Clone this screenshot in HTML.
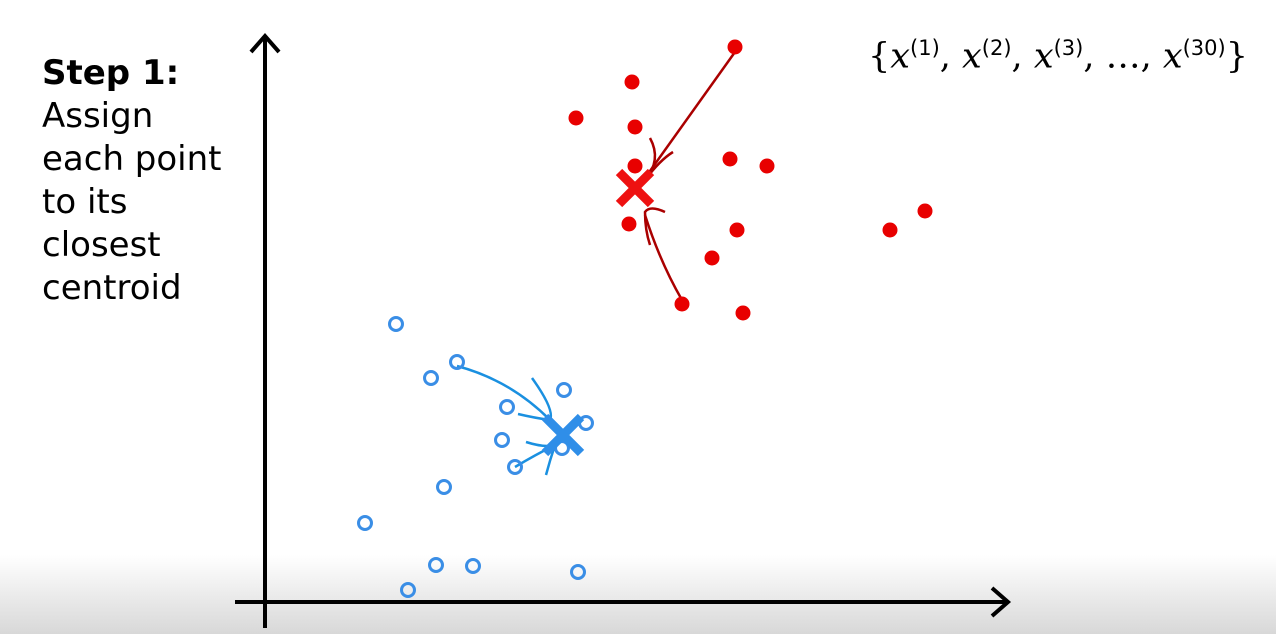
<!DOCTYPE html>
<html><head><meta charset="utf-8">
<style>
html,body{margin:0;padding:0;width:1276px;height:634px;overflow:hidden;background:#fff}
#wrap{position:relative;width:1276px;height:634px;background:linear-gradient(to bottom,#fff 0,#fff 555px,#d8d8d8 634px)}
#title{position:absolute;left:42px;top:52px;font-family:"DejaVu Sans",sans-serif;font-size:34px;line-height:43px;color:#000}
#formula{position:absolute;left:868px;top:36px;font-family:"DejaVu Serif","Liberation Serif",serif;font-size:35px;color:#000;white-space:nowrap}
#formula i{font-style:italic}
#formula sup{font-size:21px;font-style:normal;font-family:"DejaVu Sans",sans-serif}
</style></head>
<body>
<div id="wrap">
<div id="title"><b>Step 1:</b><br>Assign<br>each point<br>to its<br>closest<br>centroid</div>
<div id="formula">{<i>x</i><sup>(1)</sup>, <i>x</i><sup>(2)</sup>, <i>x</i><sup>(3)</sup>, …, <i>x</i><sup>(30)</sup>}</div>
<svg id="chart" width="1276" height="634" style="position:absolute;left:0;top:0">
<g id="axes">
<line x1="265" y1="628" x2="265" y2="36" stroke="#000" stroke-width="4"/>
<polyline points="251,52 265,36 279,52" fill="none" stroke="#000" stroke-width="4"/>
<line x1="235" y1="602" x2="1008" y2="602" stroke="#000" stroke-width="4"/>
<polyline points="992,588 1008,602 992,616" fill="none" stroke="#000" stroke-width="4"/>
</g>
<g id="annot">
<path d="M735,52 Q690,115 645,178" fill="none" stroke="#a00" stroke-width="2.5"/>
<path d="M650,138 Q662,160 645,180 Q660,160 673,152" fill="none" stroke="#a00" stroke-width="2.5"/>
<path d="M682,300 Q660,262 645,215" fill="none" stroke="#a00" stroke-width="2.5"/>
<path d="M665,212 Q650,205 645,212 Q645,230 650,245" fill="none" stroke="#a00" stroke-width="2.5"/>
<path d="M457,366 Q510,380 550,420" fill="none" stroke="#1a90e0" stroke-width="2.5"/>
<path d="M532,378 Q555,410 550,420 Q535,418 518,414" fill="none" stroke="#1a90e0" stroke-width="2.5"/>
<path d="M515,467 Q535,455 555,445" fill="none" stroke="#1a90e0" stroke-width="2.5"/>
<path d="M526,442 Q545,448 555,445 Q550,460 546,475" fill="none" stroke="#1a90e0" stroke-width="2.5"/>
</g>
<g id="marks"></g>
</svg>
</div>
<script>
// data units: x = pixels right of origin / 10, y = pixels above origin / 10
const redX = [47.0, 36.7, 31.1, 37.0, 37.0, 46.5, 50.2, 36.4, 47.2, 44.7, 62.5, 66.0, 41.7, 47.8];
const redY = [55.5, 52.0, 48.4, 47.5, 43.6, 44.3, 43.6, 37.8, 37.2, 34.4, 37.2, 39.1, 29.8, 28.9];
const blueX = [13.1, 19.2, 16.6, 29.9, 24.2, 32.1, 23.7, 29.7, 25.0, 17.9, 10.0, 17.1, 20.8, 31.3, 14.3];
const blueY = [27.8, 24.0, 22.4, 21.2, 19.5, 17.9, 16.2, 15.4, 13.5, 11.5, 7.9, 3.7, 3.6, 3.0, 1.2];
const centX = [37.0, 29.8];
const centY = [41.4, 16.7];
const centColor = ['#e11', '#2f8ee8'];
const centSize = [16, 18];
const ox = 265, oy = 602, k = 10;
function sx(v){return ox + v*k;}
function sy(v){return oy - v*k;}
const NS = 'http://www.w3.org/2000/svg';
const g = document.getElementById('marks');
for (let i = 0; i < redX.length; i++) {
  const c = document.createElementNS(NS, 'circle');
  c.setAttribute('cx', sx(redX[i])); c.setAttribute('cy', sy(redY[i]));
  c.setAttribute('r', 7.5); c.setAttribute('fill', '#e80000');
  
  
  g.appendChild(c);
}
for (let i = 0; i < blueX.length; i++) {
  const c = document.createElementNS(NS, 'circle');
  c.setAttribute('cx', sx(blueX[i])); c.setAttribute('cy', sy(blueY[i]));
  c.setAttribute('r', 6.5); c.setAttribute('fill', 'none');
  c.setAttribute('stroke', '#3a8ee6'); c.setAttribute('stroke-width', 3);
  
  
  g.appendChild(c);
}
for (let i = 0; i < centX.length; i++) {
  const cx = sx(centX[i]), cy = sy(centY[i]), s = centSize[i];
  const p = document.createElementNS(NS, 'path');
  p.setAttribute('d', `M${cx-s},${cy-s}L${cx+s},${cy+s}M${cx+s},${cy-s}L${cx-s},${cy+s}`);
  p.setAttribute('stroke', centColor[i]); p.setAttribute('stroke-width', 9);
  
  
  g.appendChild(p);
}
</script>
</body></html>
